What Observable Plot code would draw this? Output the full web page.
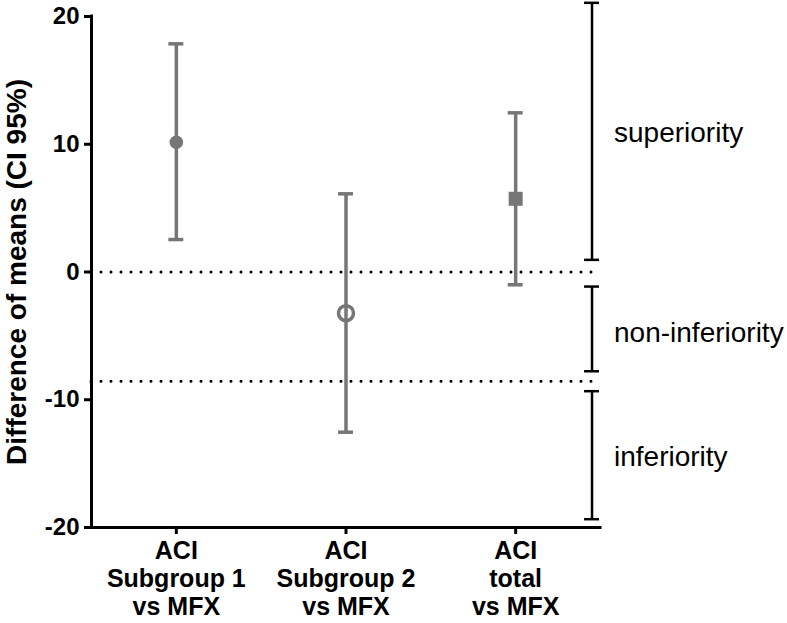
<!DOCTYPE html>
<html>
<head>
<meta charset="utf-8">
<script src="https://cdn.jsdelivr.net/npm/d3@7"></script>
<script src="https://cdn.jsdelivr.net/npm/@observablehq/plot@0.6"></script>
<style>
  html, body { margin: 0; padding: 0; background: #fff; }
  #chart svg { display: block; }
</style>
</head>
<body>
<div id="chart"></div>
<script>
// ---- data ----
const categories = ["ACI\nSubgroup 1\nvs MFX", "ACI\nSubgroup 2\nvs MFX", "ACI\ntotal\nvs MFX"];
const means = [10.16, -3.22, 5.73];
const lower = [2.54, -12.54, -1.0];
const upper = [17.86, 6.12, 12.46];
const markers = ["filled", "open", "square"];
const yTicks = [-20, -10, 0, 10, 20];
const refLines = [0, -8.55];
const zoneNames = ["superiority", "non-inferiority", "inferiority"];
const zoneLow = [0.95, -7.77, -19.35];
const zoneHigh = [21.07, -1.14, -9.33];
const zoneLabelY = [10.85, -4.8, -14.5];

// ---- build tables ----
const rows = categories.map((c, i) => ({i, c, mean: means[i], lo: lower[i], hi: upper[i], m: markers[i]}));
const zones = zoneNames.map((n, i) => ({n, lo: zoneLow[i], hi: zoneHigh[i], ly: zoneLabelY[i]}));
const xDomain = [-0.5, 2.5];
const zoneX = 2.45;
const cap = 0.044;
const grey = "#767676";

const chart = Plot.plot({
  width: 787,
  height: 623,
  marginLeft: 91,
  marginRight: 187,
  marginTop: 16,
  marginBottom: 96,
  style: {fontFamily: "'Liberation Sans', Arial, sans-serif", color: "#000", background: "#fff"},
  x: {domain: xDomain},
  y: {domain: [-20, 20]},
  marks: [
    // reference dotted lines
    Plot.ruleY(refLines, {x1: xDomain[0], x2: xDomain[1], stroke: "#000", strokeWidth: 3, strokeDasharray: "0 10", strokeLinecap: "round"}),
    // axes lines
    Plot.ruleX([xDomain[0]], {y1: -20, y2: 20, stroke: "#000", strokeWidth: 3, strokeLinecap: "square"}),
    Plot.ruleY([-20], {x1: xDomain[0], x2: xDomain[1], stroke: "#000", strokeWidth: 3, strokeLinecap: "square"}),
    Plot.axisY({ticks: yTicks, tickFormat: d => String(d), tickSize: 7, tickPadding: 5, fontSize: 24, fontWeight: "bold", strokeWidth: 3, label: null}),
    Plot.axisX({ticks: [0, 1, 2], tickFormat: i => categories[i], tickSize: 7, tickPadding: 4, fontSize: 25, fontWeight: "bold", lineHeight: 1.13, strokeWidth: 3, label: null}),
    // y label
    Plot.text(["Difference of means (CI 95%)"], {frameAnchor: "left", textAnchor: "middle", dx: -74, rotate: -90, fontSize: 28, fontWeight: "bold", fill: "#000"}),
    // error bars
    Plot.ruleX(rows, {x: "i", y1: "lo", y2: "hi", stroke: grey, strokeWidth: 3.5}),
    Plot.ruleY(rows, {y: "lo", x1: d => d.i - cap, x2: d => d.i + cap, stroke: grey, strokeWidth: 3.5}),
    Plot.ruleY(rows, {y: "hi", x1: d => d.i - cap, x2: d => d.i + cap, stroke: grey, strokeWidth: 3.5}),
    // markers
    Plot.dot(rows.filter(d => d.m === "filled"), {x: "i", y: "mean", r: 6.8, fill: grey, stroke: "none", symbol: "circle"}),
    Plot.dot(rows.filter(d => d.m === "open"), {x: "i", y: "mean", r: 7.5, fill: "none", stroke: grey, strokeWidth: 3.5, symbol: "circle"}),
    Plot.dot(rows.filter(d => d.m === "square"), {x: "i", y: "mean", r: 7.9, fill: grey, stroke: "none", symbol: "square"}),
    // zone brackets
    Plot.ruleX(zones, {x: () => zoneX, y1: "lo", y2: "hi", stroke: "#000", strokeWidth: 2.5}),
    Plot.ruleY(zones, {y: "lo", x1: () => zoneX - cap, x2: () => zoneX + cap, stroke: "#000", strokeWidth: 2.5}),
    Plot.ruleY(zones, {y: "hi", x1: () => zoneX - cap, x2: () => zoneX + cap, stroke: "#000", strokeWidth: 2.5}),
    Plot.text(zones, {x: () => zoneX, y: "ly", text: "n", dx: 22, textAnchor: "start", fontSize: 28, fill: "#000"})
  ]
});
document.getElementById("chart").appendChild(chart);
</script>
</body>
</html>
